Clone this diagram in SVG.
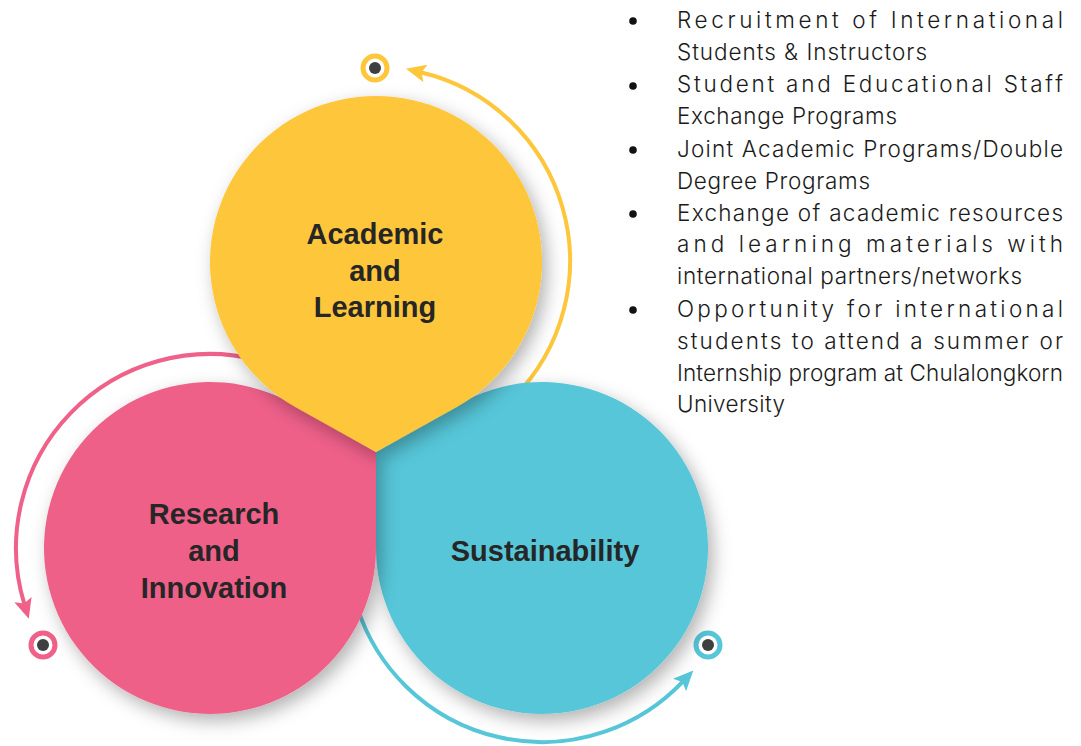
<svg xmlns="http://www.w3.org/2000/svg" width="1081" height="746" viewBox="0 0 1081 746">
<style>
.lbl{font-family:"Liberation Sans",Arial,sans-serif;font-weight:700;font-size:29px;fill:#262626;text-anchor:middle}
.li{font-family:Inter,"Liberation Sans",sans-serif;font-weight:300;font-size:22.5px;fill:#1a1a1a}
.arc{fill:none;stroke-width:4}
.dot{fill:#3f3f3f}
.bul{fill:#111}
</style>
<defs>
<filter id="sh" x="-30%" y="-30%" width="160%" height="160%">
<feDropShadow dx="5" dy="7" stdDeviation="9" flood-color="#000" flood-opacity="0.3"/>
</filter>
<marker id="ay" markerUnits="userSpaceOnUse" markerWidth="20" markerHeight="18" viewBox="0 0 20 18" refX="5" refY="9" orient="auto"><path d="M0,0 L20,9 L0,18 L4,9 Z" fill="#FEC63A"/></marker>
<marker id="ap" markerUnits="userSpaceOnUse" markerWidth="20" markerHeight="18" viewBox="0 0 20 18" refX="5" refY="9" orient="auto"><path d="M0,0 L20,9 L0,18 L4,9 Z" fill="#EF6189"/></marker>
<marker id="at" markerUnits="userSpaceOnUse" markerWidth="20" markerHeight="18" viewBox="0 0 20 18" refX="5" refY="9" orient="auto"><path d="M0,0 L20,9 L0,18 L4,9 Z" fill="#56C6D8"/></marker>
</defs>
<rect width="1081" height="746" fill="#fff"/>
<g id="connectors">
<path class="arc" stroke="#FEC63A" d="M513.2 398.2 A194 194 0 0 0 420.6 72.2" marker-end="url(#ay)"/>
<path class="arc" stroke="#EF6189" d="M260.2 360.6 A194 194 0 0 0 24.4 604.4" marker-end="url(#ap)"/>
<path class="arc" stroke="#56C6D8" d="M357.5 608 A194 194 0 0 0 683 681.3" marker-end="url(#at)"/>
</g>
<g id="ring-academic"><circle cx="375" cy="68" r="12" fill="#fff" stroke="#FEC63A" stroke-width="5"/><circle class="dot" cx="375" cy="68" r="6"/></g>
<g id="ring-research"><circle cx="43" cy="645" r="12" fill="#fff" stroke="#EF6189" stroke-width="5"/><circle class="dot" cx="43" cy="645" r="6"/></g>
<g id="ring-sustainability"><circle cx="708" cy="645" r="12" fill="#fff" stroke="#56C6D8" stroke-width="5"/><circle class="dot" cx="708" cy="645" r="6"/></g>
<g id="sustainability">
<path d="M376 548 L376 452 L459 404.2 A166 166 0 1 1 376 548 Z" fill="#56C6D8" filter="url(#sh)"/>
<text class="lbl" x="545" y="561">Sustainability</text>
</g>
<g id="research">
<path d="M376 548 L376 452 L293 404.2 A166 166 0 1 0 376 548 Z" fill="#EF6189" filter="url(#sh)"/>
<text class="lbl" x="214" y="524">Research</text>
<text class="lbl" x="214" y="561">and</text>
<text class="lbl" x="214" y="598">Innovation</text>
</g>
<g id="academic">
<path d="M295.3 407 A166 166 0 1 1 456.7 407 L376 452 Z" fill="#FEC63A" filter="url(#sh)"/>
<text class="lbl" x="375" y="244">Academic</text>
<text class="lbl" x="375" y="281">and</text>
<text class="lbl" x="375" y="317">Learning</text>
</g>
<g id="list">
<circle class="bul" cx="633" cy="21" r="3.8"/>
<circle class="bul" cx="633" cy="86" r="3.8"/>
<circle class="bul" cx="633" cy="150" r="3.8"/>
<circle class="bul" cx="633" cy="214" r="3.8"/>
<circle class="bul" cx="633" cy="310" r="3.8"/>
<text class="li" x="677" y="28" textLength="386" lengthAdjust="spacing">Recruitment of International</text>
<text class="li" x="677" y="60" textLength="250" lengthAdjust="spacing">Students &amp; Instructors</text>
<text class="li" x="677" y="92" textLength="386" lengthAdjust="spacing">Student and Educational Staff</text>
<text class="li" x="677" y="124" textLength="220" lengthAdjust="spacing">Exchange Programs</text>
<text class="li" x="677" y="157" textLength="386" lengthAdjust="spacing">Joint Academic Programs/Double</text>
<text class="li" x="677" y="189" textLength="193" lengthAdjust="spacing">Degree Programs</text>
<text class="li" x="677" y="221" textLength="386" lengthAdjust="spacing">Exchange of academic resources</text>
<text class="li" x="677" y="252" textLength="386" lengthAdjust="spacing">and learning materials with</text>
<text class="li" x="677" y="284" textLength="345" lengthAdjust="spacing">international partners/networks</text>
<text class="li" x="677" y="317" textLength="386" lengthAdjust="spacing">Opportunity for international</text>
<text class="li" x="677" y="349" textLength="386" lengthAdjust="spacing">students to attend a summer or</text>
<text class="li" x="677" y="381" textLength="386" lengthAdjust="spacing">Internship program at Chulalongkorn</text>
<text class="li" x="677" y="412" textLength="108" lengthAdjust="spacing">University</text>
</g>
</svg>
